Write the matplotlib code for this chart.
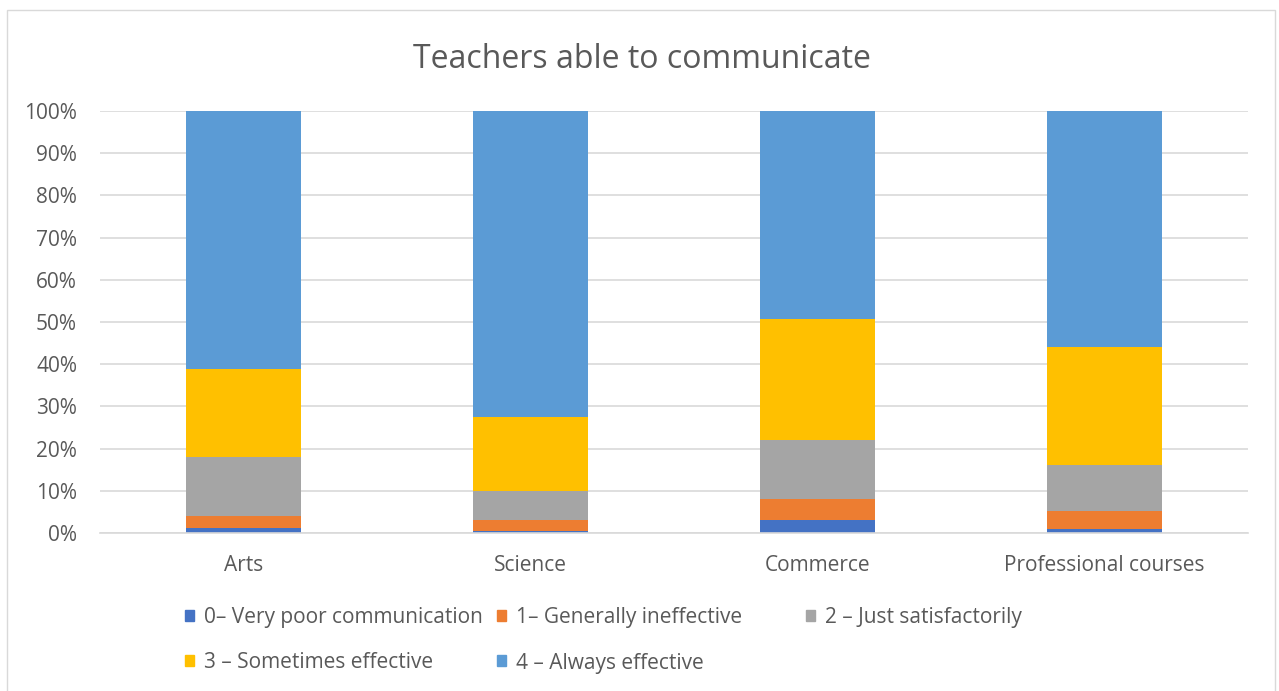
import matplotlib.pyplot as plt
from matplotlib.patches import Rectangle
import numpy as np

# values (percent of respondents)
categories = ['Arts', 'Science', 'Commerce', 'Professional courses']
series_names = ['0– Very poor communication', '1– Generally ineffective',
                '2 – Just satisfactorily', '3 – Sometimes effective', '4 – Always effective']
very_poor = [1.3, 0.5, 3.0, 1.0]
ineffective = [2.7, 2.6, 5.1, 4.1]
satisfactory = [14.0, 6.9, 14.0, 10.9]
sometimes = [20.9, 17.5, 28.6, 28.1]
always = [61.1, 72.5, 49.3, 55.9]
colors = ['#4472c4', '#ed7d31', '#a5a5a5', '#ffc000', '#5b9bd5']

plt.rcParams['font.family'] = ['Open Sans', 'DejaVu Sans']
text_col = '#595959'
W, H = 1279, 691

fig = plt.figure(figsize=(W / 100, H / 100), dpi=100)
ax = fig.add_axes([100 / W, 1 - 533 / H, (1248 - 100) / W, (533 - 111) / H])

x = np.arange(len(categories))
bottom = np.zeros(len(categories))
for vals, col in zip([very_poor, ineffective, satisfactory, sometimes, always], colors):
    ax.bar(x, vals, width=0.4, bottom=bottom, color=col, zorder=2)
    bottom += np.array(vals)

ax.set_xlim(-0.5, 3.5)
ax.set_ylim(0, 100)
ax.set_yticks(np.arange(0, 101, 10))
ax.set_yticklabels([f'{v}%' for v in range(0, 101, 10)])
ax.set_xticks(x)
ax.set_xticklabels(categories)
ax.tick_params(length=0, labelsize=15, colors=text_col)
ax.tick_params(axis='y', pad=16.5)
ax.tick_params(axis='x', pad=15.5)
ax.grid(axis='y', color='#d9d9d9', linewidth=1.2, zorder=0)
for s in ['left', 'right', 'top']:
    ax.spines[s].set_visible(False)
ax.spines['bottom'].set_color('#d9d9d9')
ax.spines['bottom'].set_linewidth(1.2)

fig.text(642 / W, 1 - 60 / H, 'Teachers able to communicate', ha='center', va='center',
         fontsize=23, color=text_col)

# legend drawn by hand to match the spacing of the original
leg_pos = [(185, 616), (497, 616), (806, 616), (185, 661), (497, 661)]
for (lx, ly), name, col in zip(leg_pos, series_names, colors):
    fig.patches.append(Rectangle((lx / W, 1 - (ly + 5) / H), 9 / W, 11 / H,
                                 transform=fig.transFigure, color=col))
    fig.text((lx + 19) / W, 1 - (ly + 2) / H, name, ha='left', va='center',
             fontsize=15, color=text_col)

# chart border
fig.patches.append(Rectangle((7 / W, 1 - 700 / H), (1275 - 7) / W, (700 - 10) / H,
                             transform=fig.transFigure, fill=False,
                             edgecolor='#d9d9d9', linewidth=1))

fig.savefig('out.png', dpi=100)
